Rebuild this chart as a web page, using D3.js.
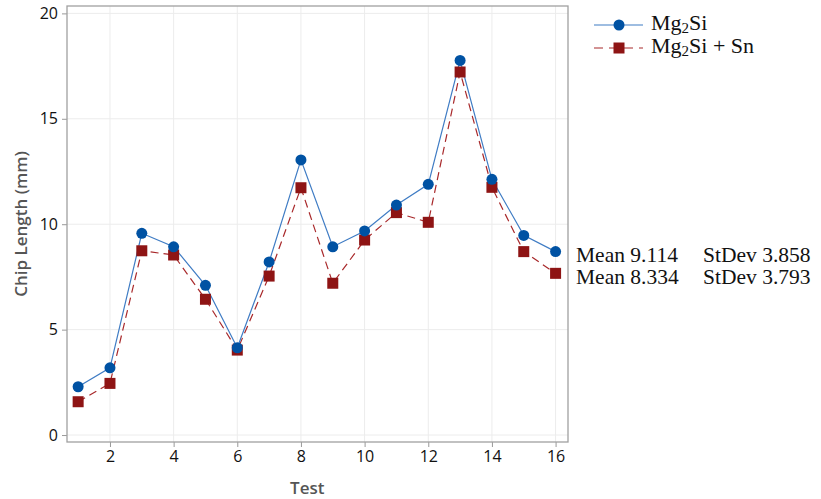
<!DOCTYPE html>
<html>
<head>
<meta charset="utf-8">
<script src="https://cdn.jsdelivr.net/npm/d3@7"></script>
<style>
  body { margin: 0; background: #fff; }
  svg { display: block; }
</style>
</head>
<body>
<div id="chart"></div>
<script>
// data
const tests = d3.range(1, 17);
const mg2si = [2.29, 3.19, 9.57, 8.93, 7.10, 4.14, 8.21, 13.05, 8.93, 9.68, 10.91, 11.89, 17.77, 12.13, 9.47, 8.70];
const mg2siSn = [1.58, 2.45, 8.74, 8.54, 6.44, 4.03, 7.54, 11.73, 7.20, 9.25, 10.55, 10.09, 17.22, 11.75, 8.70, 7.67];
const xTicks = [2, 4, 6, 8, 10, 12, 14, 16];
const yTicks = [0, 5, 10, 15, 20];
const stats = [
  { mean: "9.114", sd: "3.858" },
  { mean: "8.334", sd: "3.793" }
];

const width = 821, height = 499;
const margin = { top: 6, right: 253, bottom: 57, left: 67 };

const svg = d3.select("#chart").append("svg")
  .attr("width", width)
  .attr("height", height);

const x = d3.scaleLinear()
  .domain([0.65, 16.39])
  .range([margin.left, width - margin.right]);
const y = d3.scaleLinear()
  .domain([-0.33, 20.35])
  .range([height - margin.bottom, margin.top]);

const tickFont = "'Open Sans', 'Noto Sans', sans-serif";

// gridlines
svg.append("g").selectAll("line.gx")
  .data(xTicks).enter().append("line")
    .attr("x1", d => x(d)).attr("x2", d => x(d))
    .attr("y1", margin.top).attr("y2", height - margin.bottom)
    .attr("stroke", "#ececec");
svg.append("g").selectAll("line.gy")
  .data(yTicks).enter().append("line")
    .attr("x1", margin.left).attr("x2", width - margin.right)
    .attr("y1", d => y(d)).attr("y2", d => y(d))
    .attr("stroke", "#ececec");

// axes
const xAxis = svg.append("g")
  .attr("transform", "translate(0," + (height - margin.bottom) + ")")
  .call(d3.axisBottom(x).tickValues(xTicks).tickSize(5).tickPadding(4));
const yAxis = svg.append("g")
  .attr("transform", "translate(" + margin.left + ",0)")
  .call(d3.axisLeft(y).tickValues(yTicks).tickSize(5).tickPadding(4));
[xAxis, yAxis].forEach(a => {
  a.select(".domain").remove();
  a.selectAll("line").attr("stroke", "#999");
  a.selectAll("text")
    .attr("fill", "#111")
    .style("font-family", tickFont)
    .style("font-size", "16px")
    .style("font-weight", "500");
});

// frame
svg.append("rect")
  .attr("x", margin.left).attr("y", margin.top)
  .attr("width", width - margin.left - margin.right)
  .attr("height", height - margin.top - margin.bottom)
  .attr("fill", "none")
  .attr("stroke", "#a0a0a0")
  .attr("stroke-width", 1.3);

// axis titles
svg.append("text")
  .attr("x", x(8.2)).attr("y", 494)
  .attr("text-anchor", "middle")
  .attr("fill", "#555")
  .style("font-family", tickFont)
  .style("font-size", "17px")
  .style("font-weight", "600")
  .text("Test");
svg.append("text")
  .attr("transform", "translate(27," + ((margin.top + height - margin.bottom) / 2) + ") rotate(-90)")
  .attr("text-anchor", "middle")
  .attr("fill", "#555")
  .style("font-family", tickFont)
  .style("font-size", "17px")
  .style("font-weight", "600")
  .text("Chip Length (mm)");

// lines
const line = d3.line()
  .x((d, i) => x(tests[i]))
  .y(d => y(d));

svg.append("path")
  .datum(mg2siSn)
  .attr("d", line)
  .attr("fill", "none")
  .attr("stroke", "#a8282a")
  .attr("stroke-width", 1.2)
  .attr("stroke-dasharray", "8,5");

svg.append("path")
  .datum(mg2si)
  .attr("d", line)
  .attr("fill", "none")
  .attr("stroke", "#3f7cc4")
  .attr("stroke-width", 1.2);

// markers
svg.append("g").selectAll("rect")
  .data(mg2siSn).enter().append("rect")
    .attr("x", (d, i) => x(tests[i]) - 5.5)
    .attr("y", d => y(d) - 5.5)
    .attr("width", 11).attr("height", 11)
    .attr("fill", "#8e1414");

svg.append("g").selectAll("circle")
  .data(mg2si).enter().append("circle")
    .attr("cx", (d, i) => x(tests[i]))
    .attr("cy", d => y(d))
    .attr("r", 5.5)
    .attr("fill", "#0052a3");

// legend
const serif = "'Liberation Serif', 'DejaVu Serif', serif";
const lg = svg.append("g");
lg.append("line")
  .attr("x1", 594).attr("x2", 643).attr("y1", 25).attr("y2", 25)
  .attr("stroke", "#3f7cc4").attr("stroke-width", 1.2);
lg.append("circle").attr("cx", 619).attr("cy", 25).attr("r", 5.5).attr("fill", "#0052a3");
lg.append("line")
  .attr("x1", 594).attr("x2", 643).attr("y1", 48).attr("y2", 48)
  .attr("stroke", "#a8282a").attr("stroke-width", 1.2)
  .attr("stroke-dasharray", "9,6");
lg.append("rect").attr("x", 613.5).attr("y", 42.5).attr("width", 11).attr("height", 11).attr("fill", "#8e1414");

const labels = [["Mg", "2", "Si"], ["Mg", "2", "Si + Sn"]];
labels.forEach((l, i) => {
  const t = lg.append("text")
    .attr("x", 651).attr("y", 30 + i * 23)
    .attr("fill", "#111")
    .style("font-family", serif)
    .style("font-size", "22px");
  t.append("tspan").text(l[0]);
  t.append("tspan").attr("dy", 3).style("font-size", "15px").text(l[1]);
  t.append("tspan").attr("dy", -3).text(l[2]);
});

// summary stats
stats.forEach((s, i) => {
  const t = svg.append("text")
    .attr("y", 262 + i * 22)
    .attr("fill", "#111")
    .style("font-family", serif)
    .style("font-size", "21.5px");
  t.append("tspan").attr("x", 576).text("Mean " + s.mean);
  t.append("tspan").attr("x", 703).text("StDev " + s.sd);
});
</script>
</body>
</html>
